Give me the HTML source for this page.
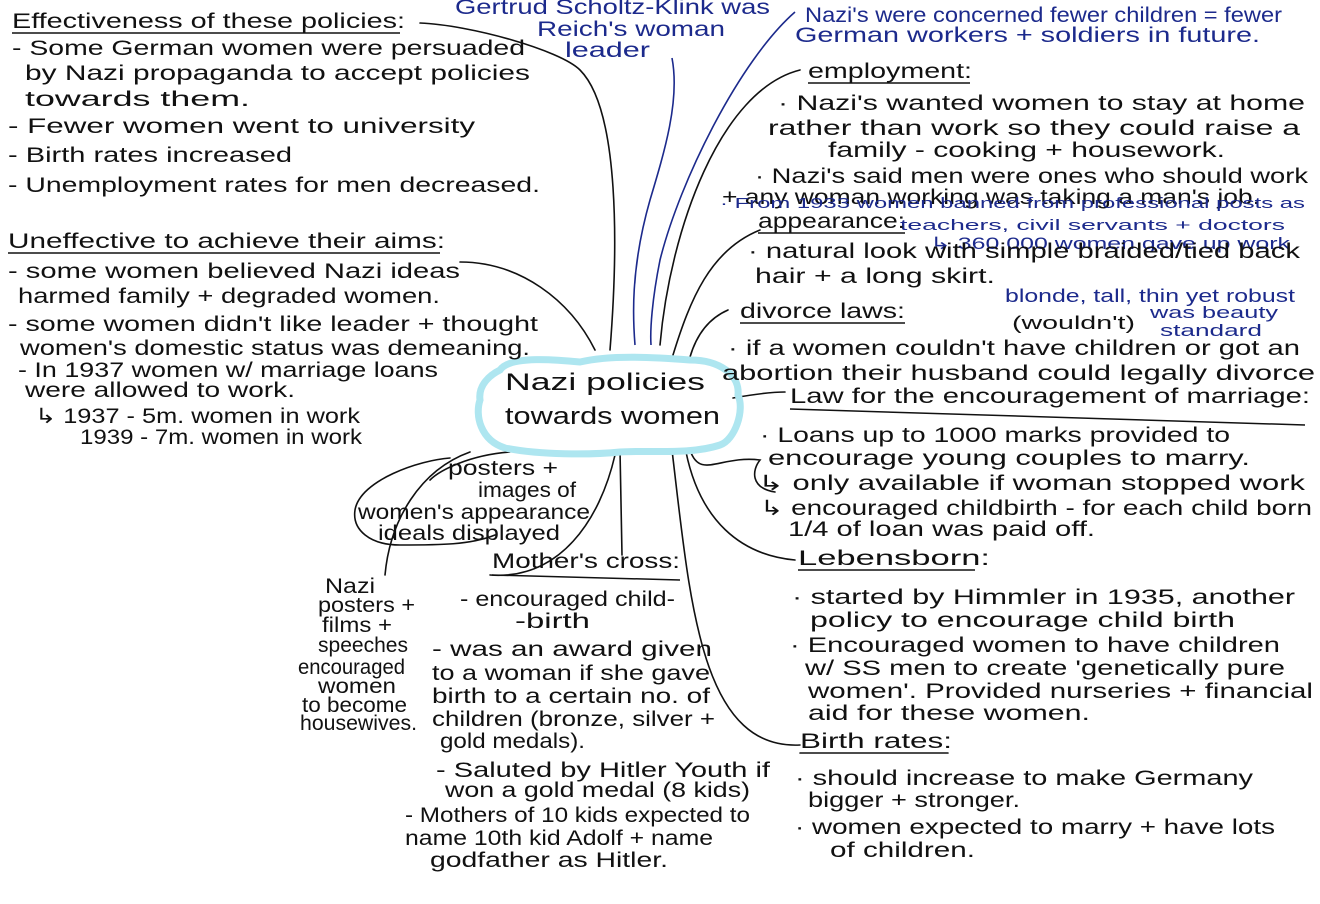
<!DOCTYPE html>
<html><head><meta charset="utf-8"><style>
html,body{margin:0;padding:0;background:#fff;width:1320px;height:904px;overflow:hidden}
svg{display:block}
text{font-family:"Liberation Sans",sans-serif;font-size:21px;fill:#111}
.b{fill:#1c2a8c}
.s{font-size:15px}
</style></head><body>
<svg width="1320" height="904" viewBox="0 0 1320 904" xmlns="http://www.w3.org/2000/svg">
<g fill="none" stroke="#111" stroke-width="1.6" stroke-linecap="round">
<path d="M420,23 C470,25 560,50 580,70 C620,110 618,250 610,350"/>
<path d="M460,262 C520,262 570,300 595,350"/>
<path d="M760,230 C710,250 690,300 673,355"/>
<path d="M728,310 C705,320 695,340 690,357"/>
<path d="M733,398 C750,395 770,392 785,392"/>
<path d="M800,70 C720,90 670,230 660,345"/>
<path d="M620,450 L622,555"/>
<path d="M672,450 C690,600 700,750 800,745"/>
<path d="M686,452 C700,520 740,555 795,560"/>
<path d="M690,450 C700,480 720,455 760,460 C752,470 750,488 775,492"/>
<path d="M510,452 C470,455 440,470 430,480"/>
<path d="M450,458 C420,460 360,480 355,510 C352,530 370,545 400,545 C440,545 470,545 495,535"/>
<path d="M470,452 C420,470 390,520 385,575"/>
<path d="M615,455 C600,520 560,580 490,575"/>
<path d="M800,753 L948,753"/>
</g>
<g fill="none" stroke="#1c2a8c" stroke-width="1.6">
<path d="M672,58 C680,100 665,150 650,200 C630,270 633,320 635,345"/>
<path d="M795,12 C740,60 680,180 660,260 C652,300 650,330 651,345"/>
</g>
<path d="M500,370 C510,355 560,360 580,362 C610,355 650,357 690,360 C720,360 740,375 738,395 C745,410 735,440 720,445 C690,455 650,450 620,452 C590,455 540,455 505,448 C480,440 475,415 480,400 C478,385 490,375 500,370 Z" fill="none" stroke="#aee6f0" stroke-width="7"/>
<text x="505" y="390" textLength="200" lengthAdjust="spacingAndGlyphs" style="font-size:24px">Nazi policies</text>
<text x="505" y="424" textLength="215" lengthAdjust="spacingAndGlyphs" style="font-size:24px">towards women</text>

<g>
<text x="12" y="28" textLength="393" lengthAdjust="spacingAndGlyphs">Effectiveness of these policies:</text>
<line x1="12" y1="33" x2="400" y2="33" stroke="#111" stroke-width="1.5"/>
<text x="12" y="55" textLength="513" lengthAdjust="spacingAndGlyphs">- Some German women were persuaded</text>
<text x="25" y="80" textLength="505" lengthAdjust="spacingAndGlyphs">by Nazi propaganda to accept policies</text>
<text x="25" y="106" textLength="225" lengthAdjust="spacingAndGlyphs">towards them.</text>
<text x="8" y="133" textLength="467" lengthAdjust="spacingAndGlyphs">- Fewer women went to university</text>
<text x="8" y="162" textLength="284" lengthAdjust="spacingAndGlyphs">- Birth rates increased</text>
<text x="8" y="192" textLength="532" lengthAdjust="spacingAndGlyphs">- Unemployment rates for men decreased.</text>
<text x="8" y="248" textLength="437" lengthAdjust="spacingAndGlyphs">Uneffective to achieve their aims:</text>
<line x1="8" y1="253" x2="440" y2="253" stroke="#111" stroke-width="1.5"/>
<text x="8" y="278" textLength="452" lengthAdjust="spacingAndGlyphs">- some women believed Nazi ideas</text>
<text x="18" y="303" textLength="422" lengthAdjust="spacingAndGlyphs">harmed family + degraded women.</text>
<text x="8" y="331" textLength="530" lengthAdjust="spacingAndGlyphs">- some women didn't like leader + thought</text>
<text x="20" y="355" textLength="510" lengthAdjust="spacingAndGlyphs">women's domestic status was demeaning.</text>
<text x="18" y="377" textLength="420" lengthAdjust="spacingAndGlyphs">- In 1937 women w/ marriage loans</text>
<text x="25" y="397" textLength="270" lengthAdjust="spacingAndGlyphs">were allowed to work.</text>
<text x="35" y="423" textLength="325" lengthAdjust="spacingAndGlyphs">↳ 1937 - 5m. women in work</text>
<text x="80" y="444" textLength="282" lengthAdjust="spacingAndGlyphs">1939 - 7m. women in work</text>
</g>

<text class="b" x="455" y="14" textLength="315" lengthAdjust="spacingAndGlyphs">Gertrud Scholtz-Klink was</text>
<text class="b" x="537" y="36" textLength="188" lengthAdjust="spacingAndGlyphs">Reich's woman</text>
<text class="b" x="565" y="57" textLength="85" lengthAdjust="spacingAndGlyphs">leader</text>
<text class="b" x="805" y="22" textLength="477" lengthAdjust="spacingAndGlyphs">Nazi's were concerned fewer children = fewer</text>
<text class="b" x="795" y="42" textLength="465" lengthAdjust="spacingAndGlyphs">German workers + soldiers in future.</text>

<g>
<text x="808" y="78" textLength="164" lengthAdjust="spacingAndGlyphs">employment:</text>
<line x1="808" y1="83" x2="970" y2="83" stroke="#111" stroke-width="1.5"/>
<text x="778" y="110" textLength="527" lengthAdjust="spacingAndGlyphs">· Nazi's wanted women to stay at home</text>
<text x="768" y="135" textLength="532" lengthAdjust="spacingAndGlyphs">rather than work so they could raise a</text>
<text x="828" y="157" textLength="397" lengthAdjust="spacingAndGlyphs">family - cooking + housework.</text>
<text x="755" y="183" textLength="553" lengthAdjust="spacingAndGlyphs">· Nazi's said men were ones who should work</text>
<text x="722" y="204" textLength="538" lengthAdjust="spacingAndGlyphs">+ any woman working was taking a man's job.</text>
<text class="b s" x="720" y="208" textLength="585" lengthAdjust="spacingAndGlyphs">· From 1933 women banned from professional posts as</text>
<text class="b s" x="900" y="230" textLength="385" lengthAdjust="spacingAndGlyphs">teachers, civil servants + doctors</text>
<text class="b" x="930" y="249" textLength="360" lengthAdjust="spacingAndGlyphs" style="font-size:17px">↳ 360,000 women gave up work</text>
<text x="758" y="228" textLength="147" lengthAdjust="spacingAndGlyphs">appearance:</text>
<line x1="758" y1="233" x2="905" y2="233" stroke="#111" stroke-width="1.5"/>
<text x="748" y="258" textLength="552" lengthAdjust="spacingAndGlyphs">· natural look with simple braided/tied back</text>
<text x="755" y="283" textLength="240" lengthAdjust="spacingAndGlyphs">hair + a long skirt.</text>
<text class="b" x="1005" y="302" textLength="290" lengthAdjust="spacingAndGlyphs" style="font-size:18px">blonde, tall, thin yet robust</text>
<text class="b" x="1150" y="318" textLength="128" lengthAdjust="spacingAndGlyphs" style="font-size:17px">was beauty</text>
<text class="b" x="1160" y="336" textLength="102" lengthAdjust="spacingAndGlyphs" style="font-size:17px">standard</text>
<text x="740" y="318" textLength="165" lengthAdjust="spacingAndGlyphs">divorce laws:</text>
<line x1="740" y1="323" x2="905" y2="323" stroke="#111" stroke-width="1.5"/>
<text x="1012" y="329" textLength="123" lengthAdjust="spacingAndGlyphs" style="font-size:18px">(wouldn't)</text>
<text x="728" y="355" textLength="572" lengthAdjust="spacingAndGlyphs">· if a women couldn't have children or got an</text>
<text x="722" y="380" textLength="593" lengthAdjust="spacingAndGlyphs">abortion their husband could legally divorce</text>
<text x="790" y="403" textLength="520" lengthAdjust="spacingAndGlyphs">Law for the encouragement of marriage:</text>
<line x1="790" y1="409" x2="1305" y2="425" stroke="#111" stroke-width="1.5"/>
<text x="760" y="442" textLength="470" lengthAdjust="spacingAndGlyphs">· Loans up to 1000 marks provided to</text>
<text x="768" y="465" textLength="482" lengthAdjust="spacingAndGlyphs">encourage young couples to marry.</text>
<text x="758" y="490" textLength="547" lengthAdjust="spacingAndGlyphs">↳ only available if woman stopped work</text>
<text x="760" y="515" textLength="552" lengthAdjust="spacingAndGlyphs">↳ encouraged childbirth - for each child born</text>
<text x="788" y="536" textLength="307" lengthAdjust="spacingAndGlyphs">1/4 of loan was paid off.</text>
<text x="798" y="565" textLength="192" lengthAdjust="spacingAndGlyphs">Lebensborn:</text>
<line x1="798" y1="570" x2="975" y2="570" stroke="#111" stroke-width="1.5"/>
<text x="792" y="604" textLength="503" lengthAdjust="spacingAndGlyphs">· started by Himmler in 1935, another</text>
<text x="810" y="627" textLength="425" lengthAdjust="spacingAndGlyphs">policy to encourage child birth</text>
<text x="790" y="652" textLength="490" lengthAdjust="spacingAndGlyphs">· Encouraged women to have children</text>
<text x="805" y="675" textLength="480" lengthAdjust="spacingAndGlyphs">w/ SS men to create 'genetically pure</text>
<text x="808" y="698" textLength="505" lengthAdjust="spacingAndGlyphs">women'. Provided nurseries + financial</text>
<text x="808" y="720" textLength="282" lengthAdjust="spacingAndGlyphs">aid for these women.</text>
<text x="800" y="748" textLength="152" lengthAdjust="spacingAndGlyphs">Birth rates:</text>
<text x="795" y="785" textLength="458" lengthAdjust="spacingAndGlyphs">· should increase to make Germany</text>
<text x="808" y="807" textLength="212" lengthAdjust="spacingAndGlyphs">bigger + stronger.</text>
<text x="795" y="834" textLength="480" lengthAdjust="spacingAndGlyphs">· women expected to marry + have lots</text>
<text x="830" y="857" textLength="145" lengthAdjust="spacingAndGlyphs">of children.</text>
</g>

<g>
<text x="448" y="475" textLength="110" lengthAdjust="spacingAndGlyphs">posters +</text>
<text x="478" y="497" textLength="98" lengthAdjust="spacingAndGlyphs">images of</text>
<text x="358" y="519" textLength="232" lengthAdjust="spacingAndGlyphs">women's appearance</text>
<text x="378" y="540" textLength="182" lengthAdjust="spacingAndGlyphs">ideals displayed</text>
<text x="492" y="568" textLength="188" lengthAdjust="spacingAndGlyphs">Mother's cross:</text>
<line x1="492" y1="575" x2="680" y2="580" stroke="#111" stroke-width="1.5"/>
<text x="460" y="606" textLength="215" lengthAdjust="spacingAndGlyphs">- encouraged child-</text>
<text x="515" y="628" textLength="75" lengthAdjust="spacingAndGlyphs">-birth</text>
<text x="432" y="656" textLength="280" lengthAdjust="spacingAndGlyphs">- was an award given</text>
<text x="432" y="680" textLength="278" lengthAdjust="spacingAndGlyphs">to a woman if she gave</text>
<text x="432" y="703" textLength="278" lengthAdjust="spacingAndGlyphs">birth to a certain no. of</text>
<text x="432" y="726" textLength="283" lengthAdjust="spacingAndGlyphs">children (bronze, silver +</text>
<text x="440" y="748" textLength="145" lengthAdjust="spacingAndGlyphs">gold medals).</text>
<text x="436" y="777" textLength="334" lengthAdjust="spacingAndGlyphs">- Saluted by Hitler Youth if</text>
<text x="445" y="797" textLength="305" lengthAdjust="spacingAndGlyphs">won a gold medal (8 kids)</text>
<text x="405" y="822" textLength="345" lengthAdjust="spacingAndGlyphs">- Mothers of 10 kids expected to</text>
<text x="405" y="845" textLength="308" lengthAdjust="spacingAndGlyphs">name 10th kid Adolf + name</text>
<text x="430" y="867" textLength="238" lengthAdjust="spacingAndGlyphs">godfather as Hitler.</text>
<g style="font-size:19px">
<text x="325" y="593" textLength="50" lengthAdjust="spacingAndGlyphs">Nazi</text>
<text x="318" y="612" textLength="97" lengthAdjust="spacingAndGlyphs">posters +</text>
<text x="322" y="632" textLength="70" lengthAdjust="spacingAndGlyphs">films +</text>
<text x="318" y="652" textLength="90" lengthAdjust="spacingAndGlyphs">speeches</text>
<text x="298" y="674" textLength="107" lengthAdjust="spacingAndGlyphs">encouraged</text>
<text x="318" y="693" textLength="78" lengthAdjust="spacingAndGlyphs">women</text>
<text x="302" y="712" textLength="105" lengthAdjust="spacingAndGlyphs">to become</text>
<text x="300" y="730" textLength="117" lengthAdjust="spacingAndGlyphs">housewives.</text>
</g>
</g>
</svg>
</body></html>
